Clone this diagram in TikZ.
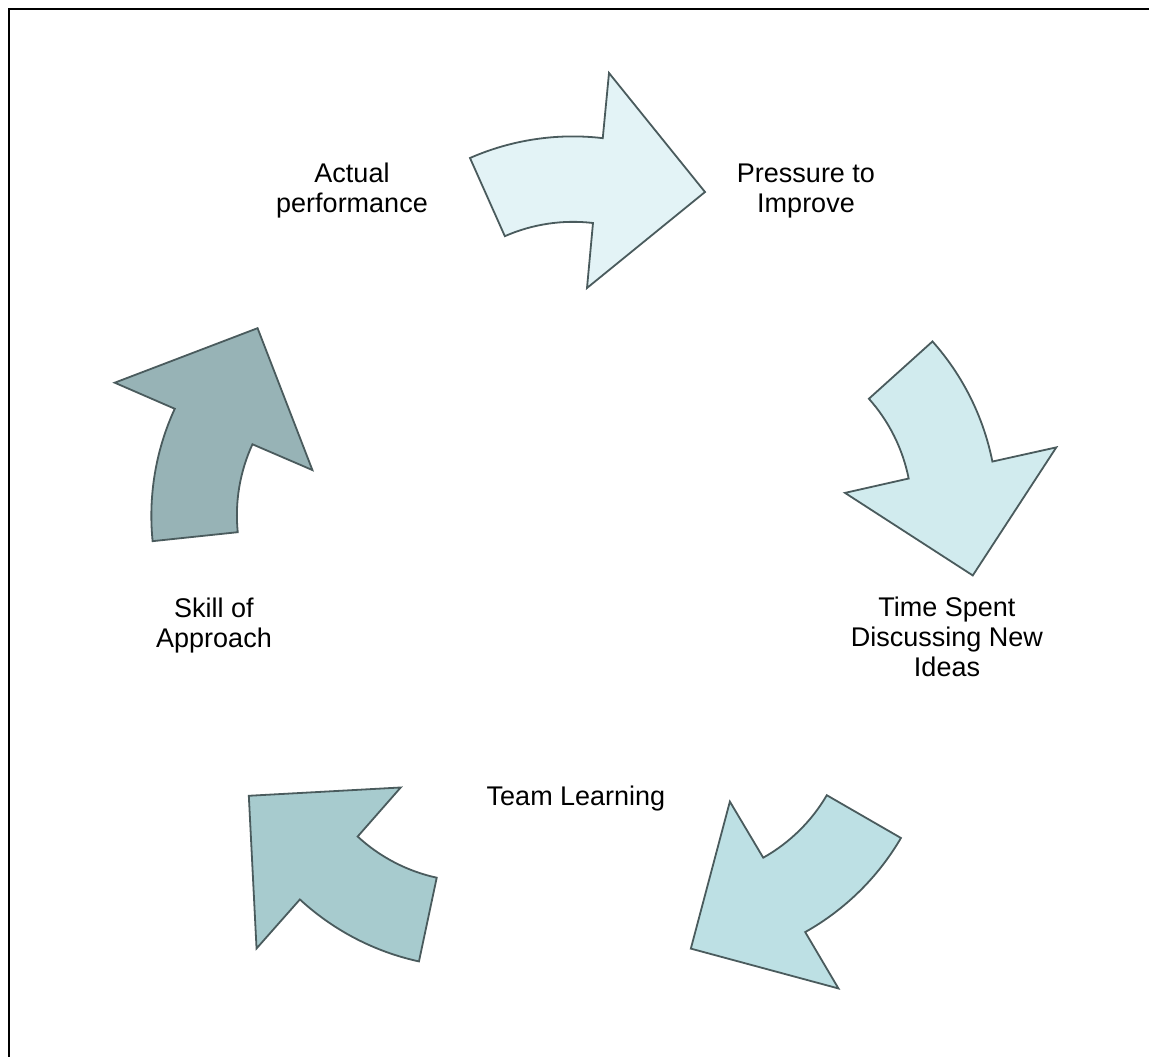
\documentclass[tikz,border=0pt]{standalone}
\usepackage{fontspec}
\setmainfont{Liberation Sans}
\definecolor{cA}{HTML}{E3F3F6}
\definecolor{cB}{HTML}{D1EBEE}
\definecolor{cC}{HTML}{BDE0E4}
\definecolor{cD}{HTML}{A7CBCE}
\definecolor{cE}{HTML}{97B3B6}
\definecolor{edge}{HTML}{4A5B5D}
\begin{document}
\begin{tikzpicture}[x=1pt,y=1pt,
  arrowbox/.style={draw=edge,line width=1.8pt,line join=miter},
  lbl/.style={font=\fontsize{27}{30}\selectfont,align=center,inner sep=0pt,text=black}]
\useasboundingbox (0,0) rectangle (1149,-1057);
\fill[white] (0,0) rectangle (1149,-1057);
\draw[line width=2.8pt,black] (1149,-9) -- (9,-9) -- (9,-1057);
\foreach \i/\c in {0/cA,1/cB,2/cC,3/cD,4/cE}{
  \begin{scope}[shift={(575,-568)},rotate=-72*\i]
    \draw[arrowbox,fill=\c] (-105,410) arc[start angle=113.7,end angle=83.3,radius=256pt]
      -- (34,495) -- (130,376) -- (12,280) -- (18,345)
      arc[start angle=83.3,end angle=113.7,radius=170pt] -- cycle;
  \end{scope}
}
\node[lbl] (actual) at (352,-191) {Actual\\performance};
\node[lbl] (pressure) at (806,-191) {Pressure to\\Improve};
\node[lbl] (time) at (947,-637) {Time Spent\\Discussing New\\Ideas};
\node[lbl,anchor=base] (team) at (576,-805) {Team Learning};
\node[lbl] (skill) at (214,-626) {Skill of\\Approach};
\end{tikzpicture}
\end{document}
